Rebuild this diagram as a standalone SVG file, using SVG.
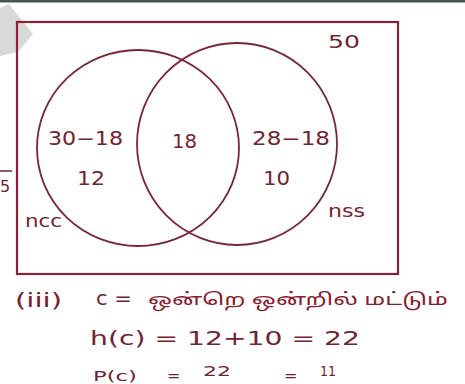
<svg xmlns="http://www.w3.org/2000/svg" width="465" height="384" viewBox="0 0 465 384">
<style>
.ink{fill:#74222f;font-family:"DejaVu Sans","Noto Sans",sans-serif}
.ta{fill:#8a1a2c;font-family:"Noto Sans Tamil","Noto Sans","DejaVu Sans",sans-serif}
.ln{fill:none;stroke:#7a2636;stroke-width:1.8}
.box{fill:none;stroke:#8c2035;stroke-width:2.2}
</style>
<rect width="465" height="384" fill="#ffffff"/>
<rect x="0" y="0" width="465" height="2.5" fill="#4a5550"/>
<polygon points="0,8 9,4 33,34 18,52 0,56" fill="#d9d9d9"/>
<g id="universe">
<rect class="box" x="17" y="22" width="381" height="252"/>
<text class="ink" x="328" y="48" font-size="18" textLength="32" lengthAdjust="spacingAndGlyphs">50</text>
</g>
<g id="connectors">
<ellipse id="ncc-circle" class="ln" cx="138" cy="148" rx="101" ry="98"/>
<ellipse id="nss-circle" class="ln" cx="237" cy="144" rx="100" ry="101"/>
</g>
<g id="ncc">
<text class="ink" x="48" y="145" font-size="19" textLength="75" lengthAdjust="spacingAndGlyphs">30−18</text>
<text class="ink" x="77" y="185" font-size="19" textLength="28" lengthAdjust="spacingAndGlyphs">12</text>
<text class="ink" x="25" y="227" font-size="17" textLength="37" lengthAdjust="spacingAndGlyphs">ncc</text>
</g>
<g id="both">
<text class="ink" x="172" y="148" font-size="19" textLength="25" lengthAdjust="spacingAndGlyphs">18</text>
</g>
<g id="nss">
<text class="ink" x="252" y="145" font-size="19" textLength="78" lengthAdjust="spacingAndGlyphs">28−18</text>
<text class="ink" x="263" y="185" font-size="19" textLength="27" lengthAdjust="spacingAndGlyphs">10</text>
<text class="ink" x="328" y="217" font-size="17" textLength="37" lengthAdjust="spacingAndGlyphs">nss</text>
</g>
<g id="side">
<line x1="0" y1="171" x2="12" y2="171" stroke="#74222f" stroke-width="1.5"/>
<text class="ink" x="0" y="192" font-size="16">5</text>
</g>
<g id="working">
<text class="ink" x="15" y="307" font-size="20" textLength="47" lengthAdjust="spacingAndGlyphs">(iii)</text>
<text class="ink" x="96" y="305" font-size="20" textLength="36" lengthAdjust="spacingAndGlyphs">c =</text>
<text class="ta" x="148" y="305" font-size="17" textLength="300" lengthAdjust="spacingAndGlyphs">ஒன்றெ ஒன்றில் மட்டும்</text>
<text class="ink" x="90" y="345" font-size="20" textLength="270" lengthAdjust="spacingAndGlyphs">h(c) = 12+10 = 22</text>
<text class="ink" x="93" y="381" font-size="14" textLength="44" lengthAdjust="spacingAndGlyphs">P(c)</text>
<text class="ink" x="167" y="381" font-size="16">=</text>
<text class="ink" x="203" y="376" font-size="14" textLength="28" lengthAdjust="spacingAndGlyphs">22</text>
<text class="ink" x="284" y="381" font-size="16">=</text>
<text class="ink" x="320" y="376" font-size="14" textLength="16" lengthAdjust="spacingAndGlyphs">11</text>
</g>
</svg>
